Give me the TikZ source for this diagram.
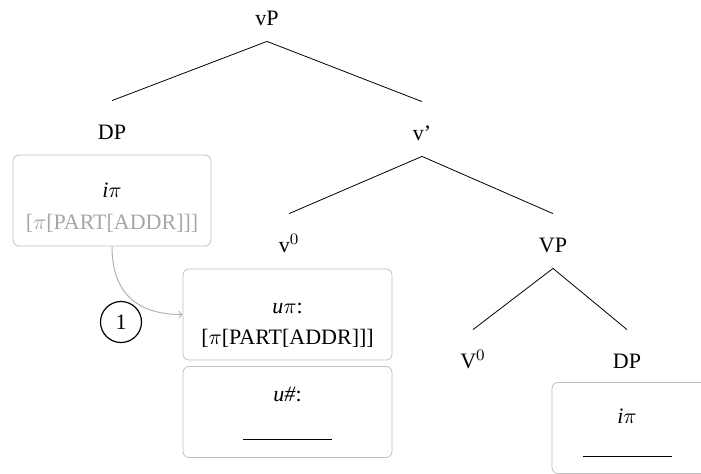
\documentclass[tikz,border=0pt]{standalone}
\usepackage{fontspec}
\setmainfont{Liberation Serif}
\begin{document}
\begin{tikzpicture}[x=0.5pt,y=-0.5pt,
  cat/.style={anchor=base,inner sep=0pt,text height=19pt,text depth=8pt},
  featbox/.style={draw=black!25,rounded corners=3pt,minimum height=45.5pt,inner sep=0pt},
  feat/.style={anchor=base,inner sep=0pt}]
\fontsize{11}{13}\selectfont
\useasboundingbox (0,0) rectangle (701,473);
\node[cat] (vP) at (267,25) {vP};
\node[cat] (DP) at (112,139) {DP};
\node[cat] (vbar) at (422,140) {v’};
\node[cat] (v0) at (289,252) {v$^0$};
\node[cat] (VP) at (553,252) {VP};
\node[cat] (V0) at (473,368) {V$^0$};
\node[cat] (DPb) at (627,368) {DP};
\draw (vP.south) -- (DP.north);
\draw (vP.south) -- (vbar.north);
\draw (vbar.south) -- (v0.north);
\draw (vbar.south) -- (VP.north);
\draw (VP.south) -- (V0.north);
\draw (VP.south) -- (DPb.north);
\node[featbox,minimum width=99pt] (dpbox) at (112,200.5) {};
\node[featbox,minimum width=104.5pt] (pibox) at (287.5,314.5) {};
\node[featbox,minimum width=104.5pt] (numbox) at (287.5,412) {};
\node[featbox,minimum width=78pt] (objbox) at (630,428) {};
\node[feat] (dppi) at (112,197) {\textit{i}$\pi$};
\node[feat,text=black!35] (dpval) at (112,229) {[$\pi$[PART[ADDR]]]};
\node[feat] (upi) at (287.5,313) {\textit{u}$\pi$:};
\node[feat] (upival) at (287.5,344) {[$\pi$[PART[ADDR]]]};
\node[feat] (unum) at (287.5,401) {\textit{u\#}:};
\node[feat] (unumval) at (287.5,440) {\rule{44.5pt}{0.4pt}};
\node[feat] (objpi) at (627,423) {\textit{i}$\pi$};
\node[feat] (objval) at (627,457) {\rule{44.5pt}{0.4pt}};
\node[draw,circle,semithick,minimum size=20.5pt,inner sep=0pt] (step1) at (121,322) {1};
\draw[black!30,line width=0.5pt,->] (dpbox.south) to[out=-90,in=180,looseness=1.2] (pibox.west);
\end{tikzpicture}
\end{document}
